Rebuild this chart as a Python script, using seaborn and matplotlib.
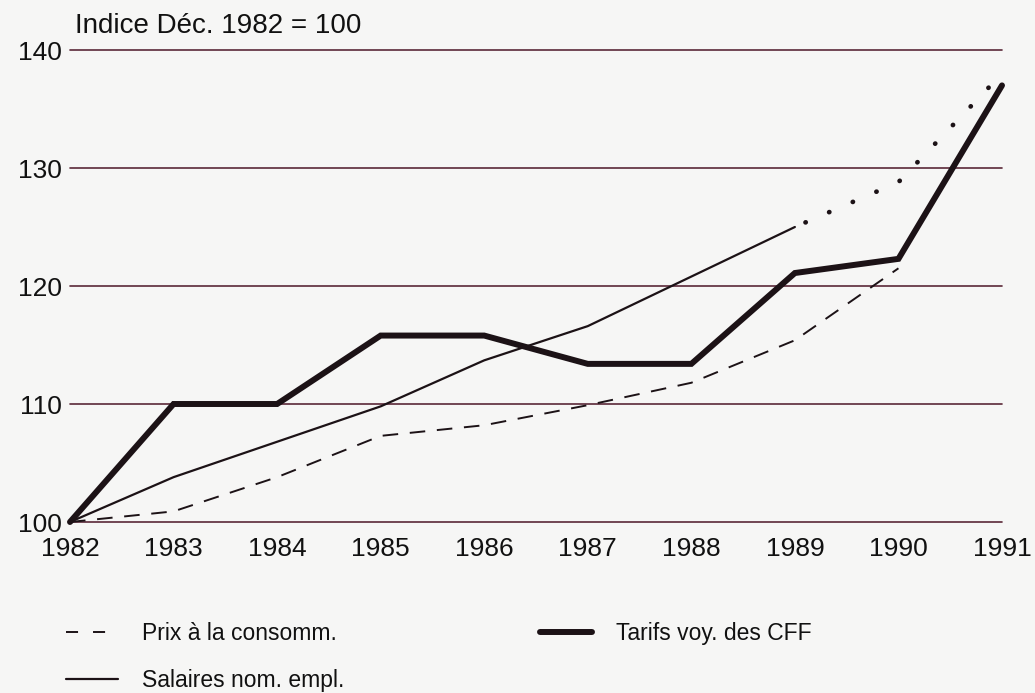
import matplotlib
matplotlib.use("Agg")
import matplotlib.pyplot as plt
import seaborn as sns
import pandas as pd
from matplotlib.lines import Line2D

# ---- data ----
years = [1982, 1983, 1984, 1985, 1986, 1987, 1988, 1989, 1990, 1991]
prix = [100.0, 100.9, 103.8, 107.3, 108.2, 109.9, 111.8, 115.4, 121.5]          # 1982-1990
salaires = [100.0, 103.8, 106.8, 109.8, 113.7, 116.6, 120.8, 125.0]              # 1982-1989
salaires_proj_years = [1989, 1990, 1991]
salaires_proj = [125.0, 128.8, 138.0]
tarifs = [100.0, 110.0, 110.0, 115.8, 115.8, 113.4, 113.4, 121.1, 122.3, 137.0]  # 1982-1991
yticks = [100, 110, 120, 130, 140]
title_text = "Indice Déc. 1982 = 100"
labels = ["Prix à la consomm.", "Salaires nom. empl.", "Tarifs voy. des CFF"]

df_prix = pd.DataFrame({"year": years[:len(prix)], "value": prix})
df_sal = pd.DataFrame({"year": years[:len(salaires)], "value": salaires})
df_proj = pd.DataFrame({"year": salaires_proj_years, "value": salaires_proj})
df_tar = pd.DataFrame({"year": years, "value": tarifs})

sns.set_theme(style="white")
plt.rcParams["font.family"] = ["Liberation Sans", "DejaVu Sans"]

bg = "#f6f6f5"
ink = "#1c1216"
grid = "#5a2838"

fig = plt.figure(figsize=(10.35, 6.93), dpi=100, facecolor=bg)
ax = fig.add_axes([70 / 1035, (693 - 522) / 693, 932 / 1035, 472 / 693])
ax.set_facecolor(bg)

for y in yticks:
    ax.axhline(y, color=grid, lw=1.2, zorder=1, clip_on=False)

sns.lineplot(data=df_prix, x="year", y="value", ax=ax, color=ink, lw=1.4,
             linestyle=(0, (8, 6)), zorder=3, clip_on=False)
sns.lineplot(data=df_sal, x="year", y="value", ax=ax, color=ink, lw=1.6,
             zorder=3, clip_on=False)
sns.lineplot(data=df_proj, x="year", y="value", ax=ax, color=ink, lw=3.4,
             linestyle=(3, (0.05, 5.4)), dash_capstyle="round", zorder=3, clip_on=False)
sns.lineplot(data=df_tar, x="year", y="value", ax=ax, color=ink, lw=4.3,
             solid_joinstyle="miter", zorder=4, clip_on=False)

ax.set_xlim(1982, 1991)
ax.set_ylim(100, 140)
ax.set_xticks(years)
ax.set_xticklabels([str(y) for y in years])
ax.set_yticks(yticks)
ax.tick_params(axis="both", length=0, labelsize=19, colors="#111111")
ax.tick_params(axis="x", pad=11)
ax.tick_params(axis="y", pad=6)
for s in ax.spines.values():
    s.set_visible(False)
ax.set_xlabel("")
ax.set_ylabel("")
ax.grid(False)

fig.text(75 / 1035, 1 - 26 / 693, title_text, fontsize=20, color="#111111",
         va="center", ha="left")

handles = [
    Line2D([], [], color=ink, lw=1.4, linestyle=(0, (6.2, 7.7))),
    Line2D([], [], color=ink, lw=1.6),
    Line2D([], [], color=ink, lw=4.3),
]
leg = fig.legend(handles, labels, ncol=2, loc="upper left",
                 bbox_to_anchor=(45 / 1035, 1 - 601 / 693),
                 frameon=False, handlelength=2.27, handletextpad=1.05,
                 columnspacing=8.55, labelspacing=1.05,
                 prop={"family": "Liberation Sans", "size": 16.5})
for t in leg.get_texts():
    t.set_color("#111111")

fig.savefig("out.png", dpi=100, facecolor=bg)
